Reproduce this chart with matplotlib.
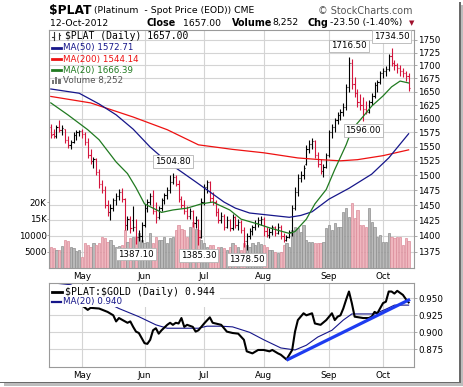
import matplotlib
matplotlib.use("Agg")
import matplotlib.pyplot as plt
from matplotlib.collections import LineCollection
from matplotlib.lines import Line2D
from matplotlib.patches import Rectangle
from matplotlib.ticker import FixedLocator, NullLocator, FixedFormatter

plt.rcParams['font.family'] = ['DejaVu Sans']

W, H, DPI = 464, 387, 100

# ---------------- data ----------------
opens = [1584, 1572, 1568, 1584, 1580, 1582, 1562, 1552, 1558, 1570, 1576, 1578, 1572, 1558, 1535,
         1525, 1528, 1505, 1485, 1475, 1450, 1438, 1445, 1458, 1465, 1472, 1460, 1418, 1428, 1425,
         1415, 1398, 1400, 1418, 1445, 1455, 1465, 1440, 1430, 1445, 1458, 1466, 1475, 1488, 1498,
         1485, 1460, 1450, 1440, 1432, 1440, 1420, 1425, 1398, 1455, 1480, 1488, 1462, 1455, 1438,
         1425, 1432, 1415, 1425, 1412, 1430, 1418, 1422, 1410, 1392, 1400, 1408, 1414, 1420, 1426,
         1428, 1408, 1402, 1406, 1414, 1405, 1415, 1400, 1394, 1399, 1406, 1445, 1472, 1495, 1500,
         1520, 1545, 1555, 1560, 1535, 1520, 1508, 1515, 1535, 1575, 1585, 1598, 1607, 1612, 1622,
         1658, 1705, 1665, 1648, 1630, 1625, 1618, 1612, 1630, 1642, 1662, 1668, 1685, 1690, 1694,
         1718, 1705, 1700, 1695, 1690, 1685, 1680]
highs = [1590, 1582, 1588, 1597, 1588, 1582, 1568, 1562, 1575, 1580, 1580, 1582, 1575, 1565, 1545,
         1532, 1530, 1510, 1492, 1482, 1458, 1452, 1462, 1470, 1476, 1478, 1462, 1432, 1432, 1448,
         1427, 1410, 1422, 1452, 1460, 1470, 1475, 1455, 1448, 1462, 1470, 1480, 1500, 1504.8, 1500,
         1492, 1465, 1458, 1448, 1445, 1442, 1432, 1428, 1462, 1485, 1492, 1490, 1472, 1458, 1445,
         1438, 1435, 1432, 1428, 1435, 1432, 1428, 1425, 1415, 1405, 1412, 1418, 1425, 1430, 1432,
         1430, 1415, 1412, 1418, 1416, 1420, 1418, 1404, 1402, 1410, 1450, 1480, 1503, 1508, 1518,
         1552, 1562, 1565, 1562, 1540, 1528, 1520, 1538, 1580, 1590, 1602, 1612, 1618, 1628, 1665,
         1716.5, 1712, 1678, 1655, 1645, 1640, 1632, 1635, 1648, 1668, 1672, 1690, 1695, 1698, 1722,
         1734.5, 1710, 1705, 1700, 1695, 1690, 1685]
lows = [1566, 1565, 1566, 1575, 1570, 1557, 1548, 1545, 1556, 1562, 1568, 1566, 1553, 1530, 1520,
        1512, 1500, 1478, 1470, 1445, 1432, 1425, 1440, 1450, 1458, 1455, 1410, 1410, 1405, 1408,
        1387.1, 1392, 1391, 1415, 1438, 1450, 1435, 1420, 1428, 1440, 1452, 1460, 1470, 1485, 1482,
        1455, 1445, 1435, 1428, 1428, 1415, 1412, 1385.3, 1396, 1450, 1470, 1455, 1450, 1432, 1420,
        1420, 1410, 1412, 1408, 1410, 1412, 1410, 1405, 1382, 1378.5, 1395, 1402, 1410, 1415, 1418,
        1400, 1398, 1396, 1402, 1400, 1403, 1395, 1390, 1392, 1396, 1400, 1442, 1465, 1488, 1493,
        1518, 1538, 1545, 1530, 1515, 1503, 1498, 1512, 1532, 1565, 1575, 1590, 1598, 1605, 1615,
        1650, 1655, 1640, 1622, 1615, 1596, 1608, 1610, 1625, 1638, 1650, 1665, 1676, 1680, 1690,
        1698, 1692, 1685, 1680, 1678, 1670, 1652]
closes = [1571, 1568, 1584, 1580, 1583, 1562, 1552, 1558, 1570, 1576, 1578, 1572, 1558, 1535, 1525,
          1528, 1505, 1485, 1475, 1450, 1438, 1445, 1458, 1465, 1472, 1460, 1418, 1428, 1412, 1415,
          1398, 1400, 1418, 1445, 1455, 1465, 1440, 1430, 1445, 1458, 1466, 1475, 1488, 1498, 1485,
          1460, 1450, 1440, 1432, 1440, 1420, 1425, 1398, 1455, 1480, 1488, 1462, 1455, 1438, 1425,
          1432, 1415, 1425, 1412, 1430, 1418, 1422, 1410, 1392, 1400, 1408, 1414, 1420, 1426, 1428,
          1408, 1402, 1406, 1414, 1405, 1415, 1400, 1394, 1399, 1406, 1445, 1472, 1495, 1500, 1512,
          1545, 1555, 1560, 1535, 1520, 1508, 1515, 1535, 1575, 1585, 1598, 1607, 1612, 1622, 1658,
          1705, 1665, 1648, 1630, 1625, 1618, 1612, 1630, 1642, 1662, 1668, 1685, 1690, 1694, 1718,
          1705, 1700, 1695, 1690, 1685, 1680.5, 1657]
prev_close = 1580
volumes = [6500, 6200, 5500, 5600, 6900, 8600, 8200, 6500, 6000, 5300, 5500, 3500, 7600, 7100, 6500,
           7600, 7100, 7600, 9600, 9100, 8100, 8600, 7100, 6500, 6800, 7100, 11600, 8100, 9100, 9600,
           9600, 10600, 8600, 7600, 8000, 10600, 7600, 9600, 8600, 8600, 9600, 7600, 9100, 9600, 11600,
           13100, 12000, 11600, 9600, 12600, 14100, 12000, 11600, 8600, 7600, 6500, 7100, 7000, 5000, 6500,
           6500, 6000, 5500, 6500, 7600, 7100, 6500, 5500, 7600, 7000, 6500, 7600, 7100, 8100, 7400,
           7100, 6500, 5500, 5500, 5000, 4500, 4800, 7100, 7600, 6500, 11600, 12600, 12100, 11000, 13100,
           8600, 8100, 8100, 7600, 7600, 7600, 8100, 12100, 13100, 11600, 13600, 12600, 12600, 17200, 18200,
           15600, 19700, 15100, 17700, 13100, 13100, 12600, 18200, 14100, 12600, 9600, 10100, 8100, 8000, 10600,
           9600, 9100, 9600, 9600, 7100, 9100, 8252]

ma50_idx = [0, 10, 17, 23, 29, 35, 41, 46, 51, 56, 61, 65, 70, 74, 80, 84, 88, 92, 98, 105, 113, 119, 126]
ma50_val = [1655, 1647, 1627, 1607, 1581, 1549, 1523, 1506, 1489, 1472, 1455, 1445, 1437, 1435, 1432,
            1430, 1433, 1439, 1460, 1478, 1502, 1530, 1572.71]
ma200_idx = [0, 14, 29, 41, 52, 64, 75, 87, 95, 102, 108, 117, 126]
ma200_val = [1641, 1629, 1603, 1580, 1553, 1545, 1539, 1530, 1527, 1525, 1527, 1534, 1544.14]
ma20_idx = [0, 6, 13, 17, 23, 27, 30, 33, 39, 43, 48, 53, 57, 63, 67, 73, 77, 80, 84, 86, 90, 93,
            97, 100, 104, 106, 110, 113, 117, 120, 123, 126]
ma20_val = [1629, 1607, 1580, 1562, 1523, 1503, 1479, 1452, 1438, 1442, 1445, 1452, 1455, 1442, 1427,
            1419, 1413, 1409, 1404, 1407, 1427, 1452, 1476, 1510, 1553, 1580, 1604, 1623, 1642, 1659,
            1670, 1666.39]

ratio_idx = [0, 3, 7, 10, 13, 14, 17, 20, 22, 23, 24, 27, 28, 29, 30, 31, 33, 34, 35, 36, 37, 38, 39,
             41, 42, 43, 44, 45, 46, 47, 48, 50, 51, 52, 54, 56, 57, 60, 62, 64, 66, 68, 69, 71, 73,
             75, 77, 78, 80, 81, 83, 84, 85, 86, 87, 89, 90, 92, 93, 95, 97, 98, 99, 100, 101, 102,
             103, 104, 105, 106, 107, 110, 112, 113, 114, 115, 117, 118, 119, 120, 121, 122, 124, 125, 126]
ratio_val = [0.953, 0.952, 0.948, 0.943, 0.933, 0.936, 0.935, 0.930, 0.925, 0.916, 0.921, 0.914, 0.916,
             0.908, 0.901, 0.899, 0.884, 0.883, 0.889, 0.903, 0.906, 0.898, 0.903, 0.911, 0.914, 0.911,
             0.914, 0.913, 0.921, 0.908, 0.911, 0.908, 0.901, 0.903, 0.913, 0.922, 0.914, 0.911, 0.901,
             0.899, 0.898, 0.889, 0.872, 0.869, 0.874, 0.874, 0.872, 0.874, 0.869, 0.867, 0.860, 0.867,
             0.874, 0.901, 0.918, 0.928, 0.925, 0.928, 0.913, 0.911, 0.918, 0.923, 0.928, 0.918, 0.923,
             0.925, 0.935, 0.948, 0.960, 0.943, 0.923, 0.921, 0.921, 0.923, 0.930, 0.928, 0.943, 0.945,
             0.960, 0.960, 0.957, 0.961, 0.955, 0.949, 0.944]
ratio_ma_idx = [0, 7, 24, 31, 37, 41, 47, 52, 55, 60, 64, 70, 75, 81, 86, 90, 94, 99, 103, 106, 110,
                114, 118, 121, 126]
ratio_ma_val = [0.973, 0.970, 0.935, 0.923, 0.911, 0.906, 0.906, 0.906, 0.909, 0.909, 0.908, 0.900,
                0.889, 0.877, 0.874, 0.881, 0.893, 0.903, 0.918, 0.927, 0.927, 0.927, 0.934, 0.940, 0.940]
trend_idx = [83, 126.5]
trend_val = [0.859, 0.9485]

month_idx = [11, 33, 54, 75, 98, 117]
month_labels = ['May', 'Jun', 'Jul', 'Aug', 'Sep', 'Oct']
price_ticks = [1375, 1400, 1425, 1450, 1475, 1500, 1525, 1550, 1575, 1600, 1625, 1650, 1675, 1700, 1725, 1750]
vol_ticks = [5000, 10000, 15000, 20000]
vol_tick_labels = ['5000', '10000', '15K', '20K']
ratio_ticks = [0.875, 0.900, 0.925, 0.950]
ratio_tick_labels = ['0.875', '0.900', '0.925', '0.950']
extreme_labels = [(105, 1716.5, 'hi'), (120, 1734.5, 'hi'), (43, 1504.8, 'hi'),
                  (110, 1596.0, 'lo'), (30, 1387.1, 'lo'), (52, 1385.3, 'lo'), (69, 1378.5, 'lo')]

# ---------------- helpers ----------------
def rect(x0, y0, x1, y1):
    return [x0 / W, 1 - y1 / H, (x1 - x0) / W, (y1 - y0) / H]

def fx(px):
    return px / W

def fy(py):
    return 1 - py / H

GRID = '#d4d4d4'
SPINE = '#9a9a9a'
UP = '#000000'
DOWN = '#d4143c'
TICKFS = 6.3
XLIM = (-0.53, 127.9)
PLIM = (1349.3, 1770.0)
RLIM = (0.8494, 0.9721)

fig = plt.figure(figsize=(W / DPI, H / DPI), dpi=DPI)
fig.patch.set_facecolor('white')

main_rect = rect(49.3, 30, 414, 268.3)
low_rect = rect(49.3, 283.3, 414, 366.7)

# background grid axes
ax_bg = fig.add_axes(main_rect)
ax_bg.set_yscale('log')
ax_bg.set_xlim(*XLIM)
ax_bg.set_ylim(*PLIM)
ax_bg.yaxis.set_major_locator(FixedLocator(price_ticks))
ax_bg.yaxis.set_minor_locator(NullLocator())
ax_bg.xaxis.set_major_locator(FixedLocator(month_idx))
ax_bg.grid(True, color=GRID, lw=0.8)
ax_bg.tick_params(left=False, bottom=False, labelleft=False, labelbottom=False)
for s in ax_bg.spines.values():
    s.set_visible(False)

# volume axes
ax_vol = fig.add_axes(main_rect)
ax_vol.patch.set_alpha(0)
ax_vol.set_xlim(*XLIM)
ax_vol.set_ylim(0, 72200)
prevs = [prev_close] + closes[:-1]
up = [c >= p for c, p in zip(closes, prevs)]
idx = list(range(len(closes)))
ax_vol.bar(idx, volumes, width=0.78,
           color=['#b9b9b9' if u else '#efb6be' for u in up],
           edgecolor=['#8e8e8e' if u else '#dc8c9a' for u in up], linewidth=0.5)
ax_vol.yaxis.set_major_locator(FixedLocator(vol_ticks))
ax_vol.yaxis.set_major_formatter(FixedFormatter(vol_tick_labels))
ax_vol.tick_params(axis='y', left=True, labelleft=True, length=1.3, width=0.6, color=SPINE,
                   pad=0.6, labelsize=TICKFS)
ax_vol.tick_params(axis='x', bottom=False, labelbottom=False)
for s in ax_vol.spines.values():
    s.set_visible(False)

# price axes
ax = fig.add_axes(main_rect)
ax.patch.set_alpha(0)
ax.set_yscale('log')
ax.set_xlim(*XLIM)
ax.set_ylim(*PLIM)
segs, cols = [], []
for i, (o, h, l, c, u) in enumerate(zip(opens, highs, lows, closes, up)):
    col = UP if u else DOWN
    segs += [[(i, l), (i, h)], [(i - 0.42, o), (i, o)], [(i, c), (i + 0.42, c)]]
    cols += [col, col, col]
ax.add_collection(LineCollection(segs, colors=cols, linewidths=0.8))
ax.plot(ma200_idx, ma200_val, color='#ee1111', lw=0.9)
ax.plot(ma50_idx, ma50_val, color='#16168a', lw=0.9)
ax.plot(ma20_idx, ma20_val, color='#207a20', lw=0.9)
ax.yaxis.set_major_locator(FixedLocator(price_ticks))
ax.yaxis.set_major_formatter(FixedFormatter([str(t) for t in price_ticks]))
ax.yaxis.set_minor_locator(NullLocator())
ax.yaxis.tick_right()
ax.tick_params(axis='y', which='major', right=True, left=False, labelright=True, labelleft=False,
               length=2.2, width=0.6, color=SPINE, pad=1.0, labelsize=TICKFS)
ax.xaxis.set_major_locator(FixedLocator(month_idx))
ax.xaxis.set_major_formatter(FixedFormatter(month_labels))
ax.tick_params(axis='x', length=0, pad=3.0, labelsize=TICKFS)
for s in ax.spines.values():
    s.set_color(SPINE)
    s.set_linewidth(0.8)

for i, v, kind in extreme_labels:
    off = 11 if kind == 'hi' else -10
    ax.annotate(f'{v:.2f}', xy=(i, v), xytext=(0, off), textcoords='offset pixels',
                ha='center', va='center', fontsize=6.2,
                bbox=dict(boxstyle='square,pad=0.22', fc='white', ec='#b4b4b4', lw=0.6))

# main legend
fig.text(fx(65), fy(36), r'\$PLAT (Daily) 1657.00', family='DejaVu Sans Mono', size=7, va='center')
fig.add_artist(Line2D([fx(54), fx(54)], [fy(40), fy(32)], color='#333', lw=0.8))
fig.add_artist(Line2D([fx(52.5), fx(54)], [fy(37), fy(37)], color='#333', lw=0.8))
fig.add_artist(Line2D([fx(59), fx(59)], [fy(39), fy(33)], color='#333', lw=0.8))
fig.add_artist(Line2D([fx(59), fx(60.5)], [fy(35), fy(35)], color='#333', lw=0.8))
legend_rows = [('MA(50) 1572.71', '#16168a', 47.7), ('MA(200) 1544.14', '#ee1111', 59.3),
               ('MA(20) 1666.39', '#207a20', 70.0)]
for txt, col, yy in legend_rows:
    fig.add_artist(Line2D([fx(52), fx(61.5)], [fy(yy), fy(yy)], color=col, lw=2.0))
    fig.text(fx(63), fy(yy), txt, color=col, size=6.3, va='center')
for k, hh in enumerate([4, 7, 5]):
    fig.add_artist(Rectangle((fx(52.5 + 3 * k), fy(83.5)), 2 / W, hh / H, transform=fig.transFigure,
                             fc='#777', ec='none'))
fig.text(fx(63), fy(80), 'Volume 8,252', color='#555555', size=6.3, va='center')

# lower panel
ax2 = fig.add_axes(low_rect)
ax2.set_xlim(*XLIM)
ax2.set_ylim(*RLIM)
ax2.plot(ratio_ma_idx, ratio_ma_val, color='#16168a', lw=0.8)
ax2.plot(ratio_idx, ratio_val, color='black', lw=1.5)
ax2.plot(trend_idx, trend_val, color='#1e3cf0', lw=2.3, solid_capstyle='butt')
ax2.yaxis.set_major_locator(FixedLocator(ratio_ticks))
ax2.yaxis.set_major_formatter(FixedFormatter(ratio_tick_labels))
ax2.yaxis.tick_right()
ax2.tick_params(axis='y', right=True, left=False, labelright=True, labelleft=False,
                length=2.2, width=0.6, color=SPINE, pad=1.0, labelsize=TICKFS)
ax2.xaxis.set_major_locator(FixedLocator(month_idx))
ax2.xaxis.set_major_formatter(FixedFormatter(month_labels))
ax2.tick_params(axis='x', length=0, pad=3.0, labelsize=TICKFS)
ax2.grid(True, color=GRID, lw=0.8)
ax2.set_axisbelow(True)
for s in ax2.spines.values():
    s.set_color(SPINE)
    s.set_linewidth(0.8)

fig.add_artist(Rectangle((fx(50), fy(307)), (220 - 50) / W, (307 - 285) / H, transform=fig.transFigure,
                         fc='white', ec='none', zorder=5))
fig.add_artist(Line2D([fx(52), fx(62)], [fy(291.7), fy(291.7)], color='black', lw=2.0, zorder=6))
t1 = fig.text(fx(65), fy(291.7), r'\$PLAT:\$GOLD (Daily) 0.944', family='DejaVu Sans Mono', size=7.1,
              va='center')
t1.set_zorder(6)
fig.add_artist(Line2D([fx(52), fx(61.5)], [fy(301.7), fy(301.7)], color='#16168a', lw=1.6, zorder=6))
t2 = fig.text(fx(63), fy(301.7), 'MA(20) 0.940', color='#16168a', size=6.3, va='center')
t2.set_zorder(6)

# header
fig.text(fx(49), fy(10.5), r'\$PLAT', weight='bold', size=8.8, va='center')
fig.text(fx(94), fy(10.5), '(Platinum  - Spot Price (EOD)) CME', size=6.7, va='center')
fig.text(fx(412), fy(10.5), '\u00a9 StockCharts.com', size=6.9, va='center', ha='right', color='#555555')
fig.text(fx(50), fy(23), '12-Oct-2012', size=6.7, va='center')
fig.text(fx(147), fy(23), 'Close', weight='bold', size=6.9, va='center')
fig.text(fx(183), fy(23), '1657.00', size=6.7, va='center')
fig.text(fx(232), fy(23), 'Volume', weight='bold', size=6.9, va='center')
fig.text(fx(272), fy(23), '8,252', size=6.7, va='center')
fig.text(fx(308), fy(23), 'Chg', weight='bold', size=6.9, va='center')
fig.text(fx(330), fy(23), '-23.50 (-1.40%)', size=6.7, va='center')
fig.text(fx(412), fy(23.5), '\u25bc', size=5, va='center', ha='center', color='#a0102c')

# frame shadow
fig.add_artist(Rectangle((fx(459.5), fy(383)), 1.6 / W, (383 - 2) / H, transform=fig.transFigure,
                         fc='#6a6a6a', ec='none'))
fig.add_artist(Rectangle((fx(461.1), fy(385)), 2.6 / W, (385 - 5) / H, transform=fig.transFigure,
                         fc='#bdbdbd', ec='none'))
fig.add_artist(Rectangle((fx(0), fy(383.2)), 461 / W, 1.6 / H, transform=fig.transFigure,
                         fc='#6a6a6a', ec='none'))
fig.add_artist(Rectangle((fx(4), fy(386)), 459 / W, 2.8 / H, transform=fig.transFigure,
                         fc='#bdbdbd', ec='none'))

fig.savefig('out.png', dpi=DPI, facecolor='white')
